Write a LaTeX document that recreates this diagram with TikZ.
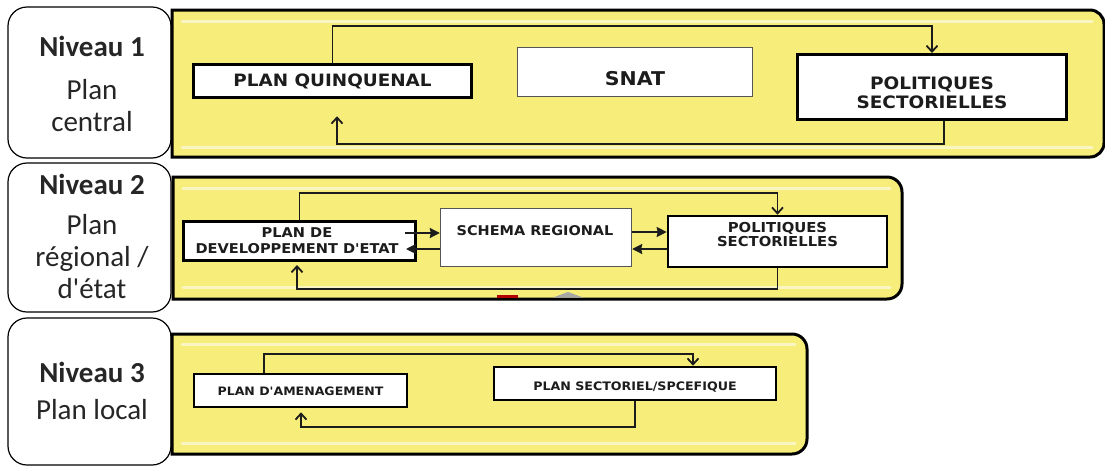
\documentclass[tikz,border=0pt]{standalone}
\usepackage{fontspec}
\setmainfont{Carlito}
\newfontfamily\boxfont{DejaVu Sans}[FakeStretch=1.08]
\usetikzlibrary{arrows.meta}
\definecolor{panelyellow}{RGB}{246,237,122}
\definecolor{ink}{RGB}{28,28,28}
\definecolor{labelink}{RGB}{38,38,38}
\definecolor{thingray}{RGB}{85,85,85}
\newcommand{\bxf}[2]{\boxfont\bfseries\fontsize{#1pt}{#2pt}\selectfont}
\begin{document}
\begin{tikzpicture}[x=1pt,y=-1pt,
  levelbox/.style={draw=black, line width=1.2pt, rounded corners=19pt, fill=white, inner sep=0pt},
  leveltxt/.style={text=labelink, inner sep=0pt, anchor=base, font=\fontsize{29pt}{32pt}\selectfont},
  panel/.style={draw=black, line width=3pt, fill=panelyellow},
  gloss/.style={draw=white, line width=3pt, line cap=round, opacity=0.55},
  thickbox/.style={draw=black, line width=3pt, fill=white, inner sep=0pt},
  thinbox/.style={draw=thingray, line width=1.4pt, fill=white, inner sep=0pt},
  boxtxt/.style={text=ink, inner sep=0pt, align=center},
  conn/.style={draw=ink, line width=1.8pt},
  barb/.style={-{Straight Barb[length=6pt,width=11pt,line width=1.8pt]}},
  tri/.style={-{Stealth[length=10pt,width=10pt,inset=1pt]}}
]
\useasboundingbox (0,0) rectangle (1105,467);

% ---------- level labels ----------
\node[levelbox, minimum width=163pt, minimum height=151pt] (lv1) at (89.5,82.5) {};
\node[levelbox, minimum width=163pt, minimum height=149pt] (lv2) at (89.5,237.5) {};
\node[levelbox, minimum width=163pt, minimum height=147pt] (lv3) at (89.5,391.5) {};

\node[leveltxt] (n1a) at (92,56) {\bfseries Niveau 1};
\node[leveltxt] (n1b) at (92,99) {Plan};
\node[leveltxt] (n1c) at (92,131.5) {central};

\node[leveltxt] (n2a) at (92,194) {\bfseries Niveau 2};
\node[leveltxt] (n2b) at (92,234.5) {Plan};
\node[leveltxt] (n2c) at (92,266) {régional /};
\node[leveltxt] (n2d) at (92,298) {d\textquotesingle état};

\node[leveltxt] (n3a) at (92,382.5) {\bfseries Niveau 3};
\node[leveltxt] (n3b) at (92,419.5) {Plan local};

% ---------- panels ----------
\draw[panel] (172,10) -- (1090,10) arc[start angle=90, end angle=0, radius=14pt]
  -- (1104,143) arc[start angle=0, end angle=-90, radius=14pt] -- (172,157) -- cycle;
\draw[panel] (173,177) -- (887,177) arc[start angle=90, end angle=0, radius=15pt]
  -- (902,284) arc[start angle=0, end angle=-90, radius=15pt] -- (173,299) -- cycle;
\draw[panel] (172,334) -- (792,334) arc[start angle=90, end angle=0, radius=15pt]
  -- (807,439) arc[start angle=0, end angle=-90, radius=15pt] -- (172,454) -- cycle;

\draw[gloss] (182,21) -- (1092,21);
\draw[gloss] (182,147) -- (1092,147);
\draw[gloss] (183,188) -- (890,188);
\draw[gloss] (183,287) -- (890,287);
\draw[gloss] (182,344) -- (795,344);
\draw[gloss] (182,443) -- (795,443);

% small marks at the bottom of panel 2
\fill[red!70!black] (497,294.5) rectangle (518,297.5);
\fill[gray!70] (553,297.5) -- (568,292) -- (583,297.5) -- cycle;

% ---------- level 1 ----------
\node[thickbox, line width=3.5pt, minimum width=278pt, minimum height=33pt] (pq) at (332.5,81) {};
\node[boxtxt, font=\bxf{17}{19}] (pqt) at (332.5,81) {PLAN QUINQUENAL};
\node[thinbox, minimum width=235pt, minimum height=49pt] (snat) at (635,72) {};
\node[boxtxt, font=\bxf{19}{20}] (snatt) at (635,79) {SNAT};
\node[thickbox, minimum width=269pt, minimum height=65pt] (pol1) at (932,87) {};
\node[boxtxt, font=\bxf{17.1}{19}] (pol1t) at (932,92.5) {POLITIQUES\\SECTORIELLES};

\coordinate (t1) at (932,26);
\coordinate (b1) at (337,144);
\draw[conn,barb] (pq.north) |- (t1) -- (pol1.north);
\draw[conn,barb,shorten >=17pt] ([xshift=12pt]pol1.south) |- (b1) -- (b1 |- pq.south);

% ---------- level 2 ----------
\node[thickbox, minimum width=232pt, minimum height=39pt] (pd) at (299.5,241) {};
\node[boxtxt, font=\bxf{13.5}{16}] (pdt) at (297,240.5) {PLAN DE\\DEVELOPPEMENT D'ETAT};
\node[thinbox, minimum width=191pt, minimum height=58pt] (sch) at (536,237.5) {};
\node[boxtxt, font=\bxf{13.4}{16}] (scht) at (535,231) {SCHEMA REGIONAL};
\node[thickbox, line width=2.6pt, minimum width=219pt, minimum height=51pt] (pol2) at (777.5,241.5) {};
\node[boxtxt, font=\bxf{13.7}{13.6}] (pol2t) at (777.5,234.5) {POLITIQUES\\SECTORIELLES};

\coordinate (t2) at (777.5,193);
\coordinate (b2) at (297,289);
\draw[conn,barb] (pd.north) |- (t2) -- (pol2.north);
\draw[conn,barb,shorten >=3pt] (pol2.south) |- (b2) -- (b2 |- pd.south);

\draw[conn,tri] ([xshift=-12pt,yshift=8pt]pd.east) -- ([yshift=8pt]pd.east -| sch.west);
\draw[conn,tri] ([yshift=-8pt]pd.east -| sch.west) -- ([xshift=-11pt,yshift=-8pt]pd.east);
\draw[conn,tri] ([yshift=9.5pt]pol2.west -| sch.east) -- ([yshift=9.5pt]pol2.west);
\draw[conn,tri] ([yshift=-7.5pt]pol2.west) -- ([yshift=-7.5pt]pol2.west -| sch.east);

% ---------- level 3 ----------
\node[thickbox, line width=2.6pt, minimum width=213pt, minimum height=33pt] (pa) at (300.5,390.5) {};
\node[boxtxt, font=\bxf{11.6}{14}] (pat) at (300.5,391) {PLAN D'AMENAGEMENT};
\node[thickbox, line width=2.6pt, minimum width=282pt, minimum height=33pt] (ps) at (635,383.5) {};
\node[boxtxt, font=\bxf{11.7}{14}] (pst) at (635,387) {PLAN SECTORIEL/SPCEFIQUE};

\coordinate (t3) at (693,354);
\coordinate (b3) at (301,427);
\draw[conn,barb] ([xshift=-36.5pt]pa.north) |- (t3) -- (t3 |- ps.north);
\draw[conn,barb,shorten >=4pt] (ps.south) |- (b3) -- (b3 |- pa.south);
\end{tikzpicture}
\end{document}
